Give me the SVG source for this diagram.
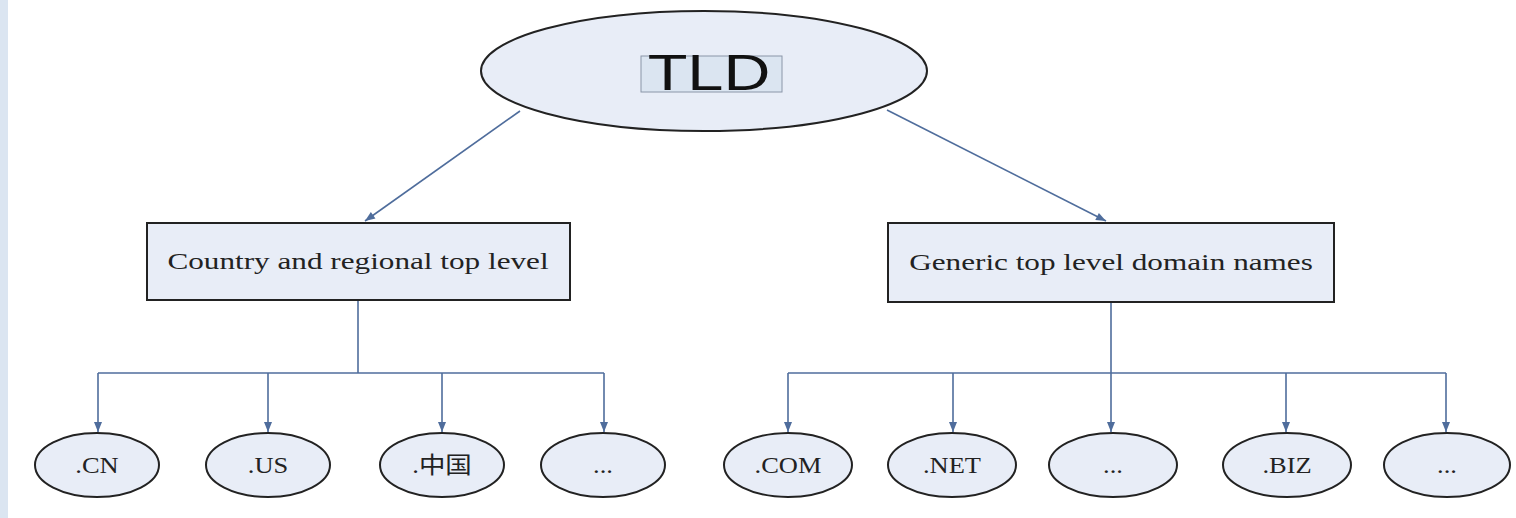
<svg xmlns="http://www.w3.org/2000/svg" width="1516" height="518" viewBox="0 0 1516 518">
<defs>
<style>
.node{fill:#e8edf7;stroke:#222;stroke-width:2}
.conn{fill:none;stroke:#4f6d9c;stroke-width:1.6}
.serif{font-family:"Liberation Serif","Noto Sans CJK SC",serif;fill:#222;text-anchor:middle}
.leaf{font-size:23px}
</style>
<marker id="ah" viewBox="0 0 10 10" refX="10" refY="5" markerWidth="11" markerHeight="10" markerUnits="userSpaceOnUse" orient="auto">
<path d="M0,1 L10,5 L0,9 Z" fill="#4f6d9c"/>
</marker>
</defs>
<rect x="0" y="0" width="1516" height="518" fill="#ffffff"/>
<rect x="0" y="0" width="8" height="518" fill="#dbe5f1"/>
<g id="connectors">
<line class="conn" x1="520" y1="111" x2="365" y2="221" marker-end="url(#ah)"/>
<line class="conn" x1="887" y1="110" x2="1106" y2="221" marker-end="url(#ah)"/>
<line class="conn" x1="358" y1="300" x2="358" y2="373"/>
<path class="conn" d="M98,373 H604"/>
<line class="conn" x1="98" y1="373" x2="98" y2="432" marker-end="url(#ah)"/>
<line class="conn" x1="268" y1="373" x2="268" y2="432" marker-end="url(#ah)"/>
<line class="conn" x1="442" y1="373" x2="442" y2="432" marker-end="url(#ah)"/>
<line class="conn" x1="604" y1="373" x2="604" y2="432" marker-end="url(#ah)"/>
<line class="conn" x1="1111" y1="302" x2="1111" y2="432" marker-end="url(#ah)"/>
<path class="conn" d="M788,373 H1446"/>
<line class="conn" x1="788" y1="373" x2="788" y2="432" marker-end="url(#ah)"/>
<line class="conn" x1="953" y1="373" x2="953" y2="432" marker-end="url(#ah)"/>
<line class="conn" x1="1286" y1="373" x2="1286" y2="432" marker-end="url(#ah)"/>
<line class="conn" x1="1446" y1="373" x2="1446" y2="432" marker-end="url(#ah)"/>
</g>
<g id="tld">
<ellipse class="node" cx="704" cy="71" rx="223" ry="60"/>
<rect x="641" y="56" width="141" height="36" fill="#dbe5f1" stroke="#8a96a8" stroke-width="1"/>
<text x="0" y="0" transform="translate(709,90) scale(1.3,1)" font-family="Liberation Sans, Arial, sans-serif" font-size="50" fill="#111" text-anchor="middle">TLD</text>
</g>
<g id="country">
<rect class="node" x="147" y="223" width="423" height="77"/>
<text class="serif" font-size="24" transform="translate(358,269) scale(1.3,1)">Country and regional top level</text>
</g>
<g id="generic">
<rect class="node" x="888" y="223" width="446" height="79"/>
<text class="serif" font-size="24" transform="translate(1111,270) scale(1.3,1)">Generic top level domain names</text>
</g>
<g id="cn"><ellipse class="node" cx="97" cy="465" rx="62" ry="32"/><text class="serif leaf" transform="translate(97,473) scale(1.15,1)">.CN</text></g>
<g id="us"><ellipse class="node" cx="268" cy="465" rx="62" ry="32"/><text class="serif leaf" transform="translate(268,473) scale(1.15,1)">.US</text></g>
<g id="zhongguo"><ellipse class="node" cx="442" cy="465" rx="62" ry="32"/><text class="serif leaf" transform="translate(442,473) scale(1.15,1)">.中国</text></g>
<g id="etc1"><ellipse class="node" cx="603" cy="465" rx="62" ry="32"/><text class="serif leaf" transform="translate(603,473) scale(1.15,1)">...</text></g>
<g id="com"><ellipse class="node" cx="788" cy="465" rx="64" ry="32"/><text class="serif leaf" transform="translate(788,473) scale(1.15,1)">.COM</text></g>
<g id="net"><ellipse class="node" cx="952" cy="465" rx="64" ry="32"/><text class="serif leaf" transform="translate(952,473) scale(1.15,1)">.NET</text></g>
<g id="etc2"><ellipse class="node" cx="1113" cy="465" rx="64" ry="32"/><text class="serif leaf" transform="translate(1113,473) scale(1.15,1)">...</text></g>
<g id="biz"><ellipse class="node" cx="1287" cy="465" rx="64" ry="32"/><text class="serif leaf" transform="translate(1287,473) scale(1.15,1)">.BIZ</text></g>
<g id="etc3"><ellipse class="node" cx="1447" cy="465" rx="63" ry="32"/><text class="serif leaf" transform="translate(1447,473) scale(1.15,1)">...</text></g>
</svg>
